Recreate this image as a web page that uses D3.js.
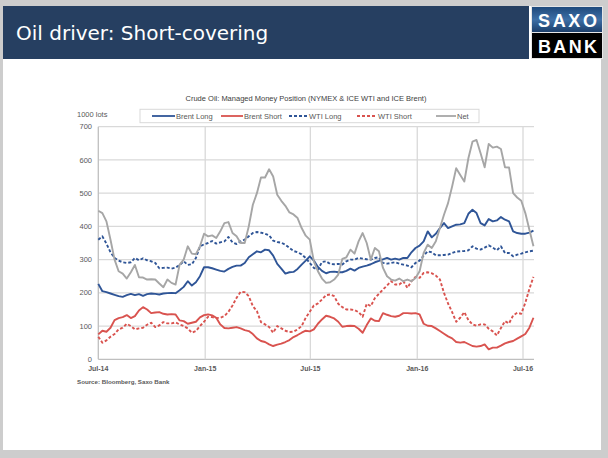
<!DOCTYPE html>
<html><head><meta charset="utf-8">
<script src="https://cdn.jsdelivr.net/npm/d3@7"></script>
<style>
html,body{margin:0;padding:0;background:#cfcfcf;}
svg{display:block}
</style></head><body>
<svg id="c" width="608" height="458"></svg>
<script>
// ---- DATA (weekly, starting 1 Jul 2014, 1000 lots) ----
const startDate = "2014-07-01";
const brentLong = [227,205,202,198,194,190,188,193,197,193,196,191,196,198,197,195,198,199,200,199,208,218,235,222,232,250,277,
 277,274,270,266,264,272,278,282,282,290,307,316,325,322,330,328,312,287,273,258,262,263,272,285,297,
 310,297,278,266,259,263,264,262,262,266,273,267,275,279,282,286,292,296,301,305,300,303,300,305,305,322,335,
 342,355,385,367,378,395,410,395,400,405,406,410,438,450,440,410,403,422,415,418,428,420,415,385,380,378,378,381,387];
const brentShort = [75,86,83,95,118,124,127,133,124,130,147,157,150,139,141,142,137,135,136,135,117,115,107,110,113,126,133,
 135,132,125,105,94,93,95,97,93,88,85,76,63,55,52,45,40,44,47,52,58,67,73,80,86,
 84,90,107,120,131,128,123,113,98,100,101,100,92,80,103,123,116,115,139,134,130,128,131,139,139,138,139,
 135,107,101,100,93,85,77,69,63,52,50,52,46,40,38,40,45,30,35,35,41,48,52,55,62,69,76,95,125];
const wtiLong = [360,370,348,322,305,297,292,290,292,305,298,304,298,295,290,274,275,276,273,276,284,295,284,286,305,340,346,
 350,356,348,352,355,368,352,347,355,360,370,380,383,381,378,373,357,353,351,345,335,326,322,316,305,
 290,275,270,293,295,287,286,287,285,295,300,300,305,303,301,300,305,307,290,288,290,292,288,285,282,277,290,
 297,312,325,322,313,313,314,315,320,324,325,326,328,340,333,330,336,343,336,328,340,320,320,310,315,318,322,325,327];
const wtiShort = [68,50,57,68,76,90,95,107,100,90,93,95,104,110,97,102,112,108,108,111,105,100,93,80,85,100,113,
 128,127,124,125,130,143,162,185,203,202,190,160,145,112,105,97,80,100,93,86,82,83,90,100,125,
 143,162,168,180,193,195,190,167,157,150,150,148,142,128,167,160,184,197,210,222,235,225,225,235,215,235,248,
 245,260,262,259,252,240,200,168,142,113,125,142,118,105,101,105,105,92,84,72,94,115,108,132,140,137,170,212,248];
const net = [447,440,415,360,300,265,258,243,262,284,247,246,240,241,240,228,217,240,230,225,285,300,340,318,316,340,378,
 370,373,365,385,410,413,380,370,350,350,400,465,500,547,547,572,550,495,477,462,442,436,425,395,372,
 360,295,265,243,230,232,240,255,302,307,330,318,355,380,350,300,335,325,275,250,240,237,243,235,240,235,245,
 265,320,345,335,355,395,435,470,520,575,555,535,605,655,660,620,578,648,637,640,633,578,577,500,487,477,440,390,340];
const seriesNames = ["Brent Long","Brent Short","WTI Long","WTI Short","Net"];
const yTicks = [0,100,200,300,400,500,600,700];
const xTickDates = ["2014-07-01","2015-01-01","2015-07-01","2016-01-01","2016-07-01"];
const xTickLabels = ["Jul-14","Jan-15","Jul-15","Jan-16","Jul-16"];
const titleText = "Oil driver: Short-covering";
const chartTitle = "Crude Oil: Managed Money Position (NYMEX & ICE WTI and ICE Brent)";
const unitLabel = "1000 lots";
const sourceText = "Source: Bloomberg, Saxo Bank";
const logoWords = ["SAXO","BANK"];

// ---- LAYOUT ----
const parse = d3.utcParse("%Y-%m-%d");
const t0 = parse(startDate);
const dates = brentLong.map((_, i) => d3.utcDay.offset(t0, 7 * i));
const svg = d3.select("#c");
const FONT = "'Liberation Sans', Arial, sans-serif";

svg.append("rect").attr("width",608).attr("height",458).attr("fill","#cdcdcd");
svg.append("rect").attr("x",3).attr("y",6).attr("width",598).attr("height",444).attr("fill","#ffffff");
svg.append("rect").attr("x",3).attr("y",6).attr("width",526).attr("height",53).attr("fill","#263f61");
svg.append("text").attr("x",16).attr("y",40).attr("fill","#ffffff")
  .attr("font-family","'DejaVu Sans', Verdana, sans-serif").attr("font-size",20).text(titleText);

// logo
const defs = svg.append("defs");
const g1 = defs.append("linearGradient").attr("id","lg").attr("x1",0).attr("y1",0).attr("x2",0).attr("y2",1);
g1.append("stop").attr("offset","0%").attr("stop-color","#1f4a7c");
g1.append("stop").attr("offset","50%").attr("stop-color","#3d6fa6");
g1.append("stop").attr("offset","100%").attr("stop-color","#1c3f6b");
svg.append("rect").attr("x",531).attr("y",6).attr("width",72).attr("height",53).attr("fill","#e6e6e6");
svg.append("rect").attr("x",532).attr("y",7).attr("width",70).attr("height",25).attr("fill","url(#lg)");
svg.append("rect").attr("x",532).attr("y",33).attr("width",70).attr("height",25).attr("fill","#000000");
logoWords.forEach((t,i) => {
  svg.append("text").attr("x",538).attr("y",i===0 ? 27 : 53).attr("fill","#ffffff")
    .attr("font-family","'Liberation Sans Narrow', 'Liberation Sans', Arial, sans-serif")
    .attr("font-weight","bold").attr("font-size",18)
    .attr("textLength",59).attr("lengthAdjust","spacing").text(t);
});

// scales
const x = d3.scaleUtc().domain([parse(xTickDates[0]), parse(xTickDates[4])]).range([98.3, 523]);
const y = d3.scaleLinear().domain([0,700]).range([359.3,126.7]);
const plotRight = 534;

// gridlines
const grid = svg.append("g");
grid.selectAll("line.h").data(yTicks).join("line")
  .attr("x1",98.3).attr("x2",plotRight).attr("y1",d=>y(d)).attr("y2",d=>y(d))
  .attr("stroke",d=> d===0 ? "#bfbfbf" : "#d9d9d9").attr("stroke-width",1.3);
grid.selectAll("line.v").data(xTickDates).join("line")
  .attr("x1",d=>x(parse(d))).attr("x2",d=>x(parse(d))).attr("y1",y(700)).attr("y2",y(0))
  .attr("stroke",(d,i)=> i===0 ? "#bfbfbf" : "#d9d9d9").attr("stroke-width",1.3);

// axis labels
svg.append("g").selectAll("text").data(yTicks).join("text")
  .attr("x",92).attr("y",d=>y(d)).attr("dy","0.35em").attr("text-anchor","end")
  .attr("font-family",FONT).attr("font-size",7.5).attr("fill","#595959").text(d=>d);
svg.append("g").selectAll("text").data(xTickDates).join("text")
  .attr("x",d=>x(parse(d))).attr("y",371).attr("text-anchor","middle")
  .attr("font-family",FONT).attr("font-weight","bold").attr("font-size",7).attr("fill","#595959")
  .text((d,i)=>xTickLabels[i]);

svg.append("text").attr("x",306).attr("y",101).attr("text-anchor","middle")
  .attr("font-family",FONT).attr("font-size",7.5).attr("fill","#404040").text(chartTitle);
svg.append("text").attr("x",77).attr("y",116.5)
  .attr("font-family",FONT).attr("font-size",7.5).attr("fill","#595959").text(unitLabel);
svg.append("text").attr("x",77).attr("y",384)
  .attr("font-family",FONT).attr("font-weight","bold").attr("font-size",6.2).attr("fill","#595959").text(sourceText);

// series
const styles = [
  {data: brentLong, color:"#2f5597", dash:null},
  {data: brentShort, color:"#d9534f", dash:null},
  {data: wtiLong, color:"#2f5597", dash:"3,2"},
  {data: wtiShort, color:"#d9534f", dash:"3,2"},
  {data: net, color:"#a6a6a6", dash:null}
];
const line = d3.line().x((d,i)=>x(dates[i])).y(d=>y(d));
styles.forEach(s => {
  svg.append("path").attr("d", line(s.data)).attr("fill","none")
    .attr("stroke", s.color).attr("stroke-width",1.9)
    .attr("stroke-linejoin","round")
    .attr("stroke-dasharray", s.dash);
});

// legend
svg.append("rect").attr("x",140).attr("y",109.3).attr("width",339).attr("height",13.4)
  .attr("fill","#ffffff").attr("stroke","#d9d9d9").attr("stroke-width",1);
const legX = [[152,175,176],[221,243,244],[289,308,309],[357,377,378],[436,456,457]];
seriesNames.forEach((n,i) => {
  const [a,b,tx] = legX[i];
  svg.append("line").attr("x1",a).attr("x2",b).attr("y1",116).attr("y2",116)
    .attr("stroke",styles[i].color).attr("stroke-width",1.8).attr("stroke-dasharray",styles[i].dash);
  svg.append("text").attr("x",tx).attr("y",116).attr("dy","0.35em")
    .attr("font-family",FONT).attr("font-size",7.5).attr("fill","#595959").text(n);
});
</script>
</body></html>
